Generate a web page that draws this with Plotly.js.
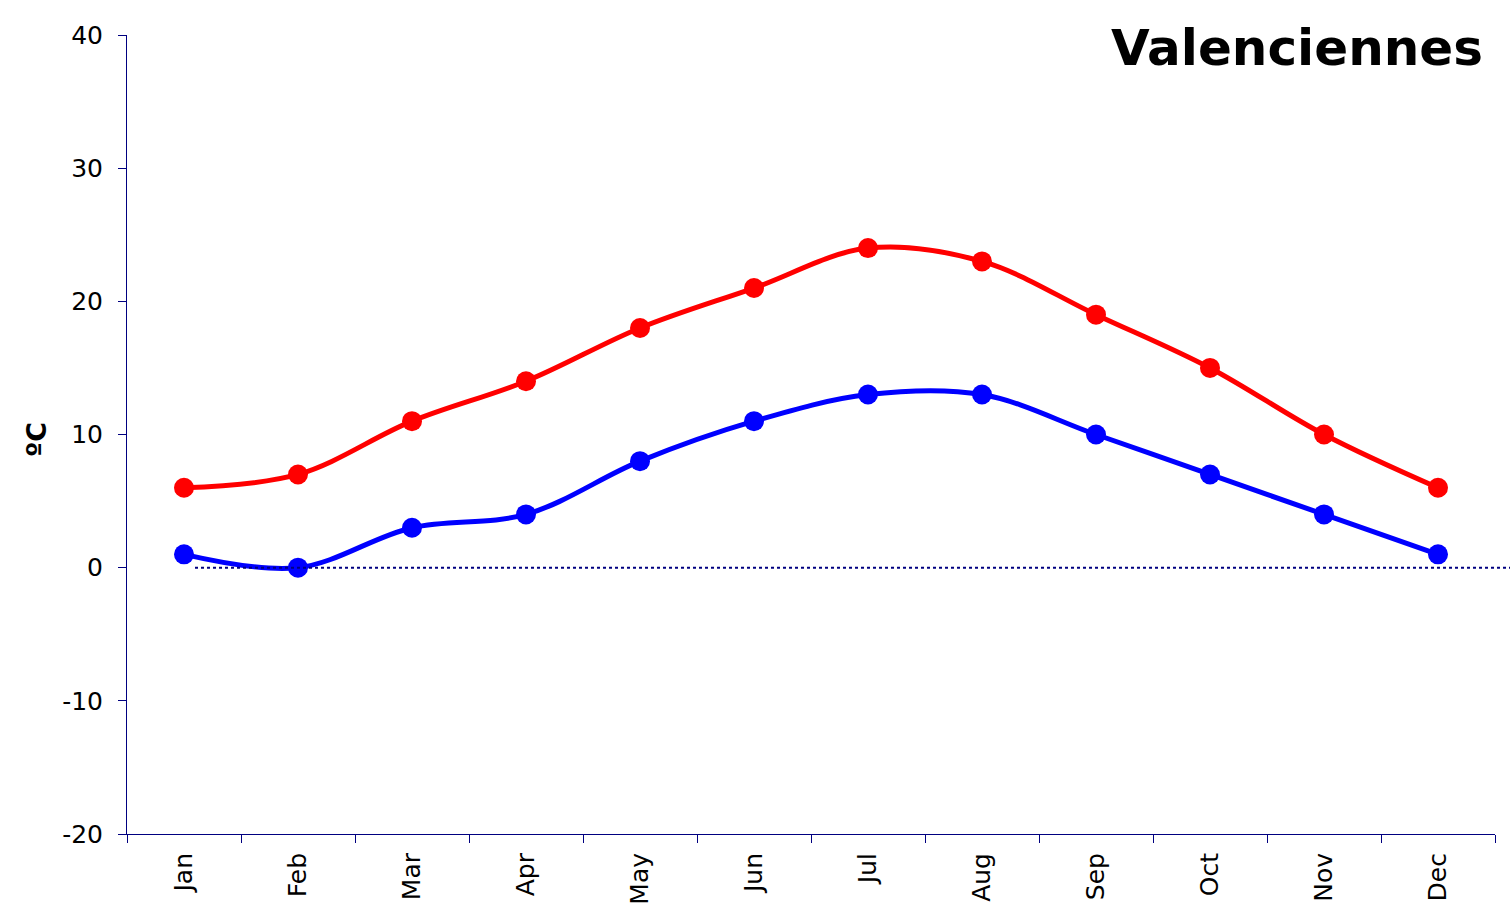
<!DOCTYPE html>
<html>
<head>
<meta charset="utf-8">
<script src="https://cdn.plot.ly/plotly-3.0.1.min.js"></script>
<style>html,body{margin:0;padding:0;background:#fff;}#chart{width:1510px;height:921px;}</style>
</head>
<body>
<div id="chart"></div>
<script>
const months = ["Jan","Feb","Mar","Apr","May","Jun","Jul","Aug","Sep","Oct","Nov","Dec"];
const highTemps = [6, 7, 11, 14, 18, 21, 24, 23, 19, 15, 10, 6];
const lowTemps = [1, 0, 3, 4, 8, 11, 13, 13, 10, 7, 4, 1];
const yTicks = [-20, -10, 0, 10, 20, 30, 40];
const chartTitle = "Valenciennes";
const yTitle = "ºC";

const W = 1510, H = 921;
const mL = 127, mR = 15, mT = 35, mB = 87;
const plotW = W - mL - mR;
const plotH = H - mT - mB;

const traces = [
  {x: months, y: highTemps, type: 'scatter', mode: 'lines+markers',
   line: {color: '#FF0000', width: 5, shape: 'spline', smoothing: 1},
   marker: {color: '#FF0000', size: 20}, hoverinfo: 'skip'},
  {x: months, y: lowTemps, type: 'scatter', mode: 'lines+markers',
   line: {color: '#0000FF', width: 5, shape: 'spline', smoothing: 1},
   marker: {color: '#0000FF', size: 20}, hoverinfo: 'skip'}
];

const layout = {
  width: W, height: H,
  margin: {l: mL, r: mR, t: mT, b: mB, pad: 0},
  paper_bgcolor: '#fff', plot_bgcolor: '#fff',
  showlegend: false,
  font: {family: 'DejaVu Sans, Verdana, sans-serif', color: '#000'},
  title: {text: '<b>' + chartTitle + '</b>', xref: 'container', yref: 'container',
          x: 1483 / W, xanchor: 'right', y: 1 - 47 / H, yanchor: 'middle',
          font: {size: 50, color: '#000', family: 'DejaVu Sans, Verdana, sans-serif'}},
  xaxis: {
    type: 'category', range: [-0.5, 11.5], fixedrange: true,
    showline: true, linecolor: '#000080', linewidth: 1,
    showgrid: false, zeroline: false,
    ticks: 'outside', ticklen: 8, tickcolor: '#000080', tickwidth: 1,
    tickson: 'boundaries', tickangle: -90, ticklabelstandoff: 8,
    tickfont: {size: 25, color: '#000'}
  },
  yaxis: {
    range: [-20, 40], fixedrange: true,
    tickmode: 'array', tickvals: yTicks, ticktext: yTicks.map(String),
    showline: true, linecolor: '#000080', linewidth: 1,
    showgrid: false, zeroline: false,
    ticks: 'outside', ticklen: 8, tickcolor: '#000080', tickwidth: 1,
    ticklabelstandoff: 10,
    tickfont: {size: 25, color: '#000'}
  },
  shapes: [
    {type: 'line', xref: 'paper', yref: 'paper',
     x0: (195 - mL) / plotW, x1: (W - mL) / plotW,
     y0: 1/3, y1: 1/3, layer: 'above',
     line: {color: '#000080', width: 2, dash: 'dot'}}
  ],
  annotations: [
    {text: '<b>' + yTitle + '</b>', xref: 'paper', yref: 'paper',
     x: (37 - mL) / plotW, y: (834 - 440) / plotH, xanchor: 'center', yanchor: 'middle',
     textangle: -90, showarrow: false,
     font: {size: 27, color: '#000', family: 'DejaVu Sans, Verdana, sans-serif'}}
  ]
};

Plotly.newPlot('chart', traces, layout, {displayModeBar: false, staticPlot: true});
</script>
</body>
</html>
